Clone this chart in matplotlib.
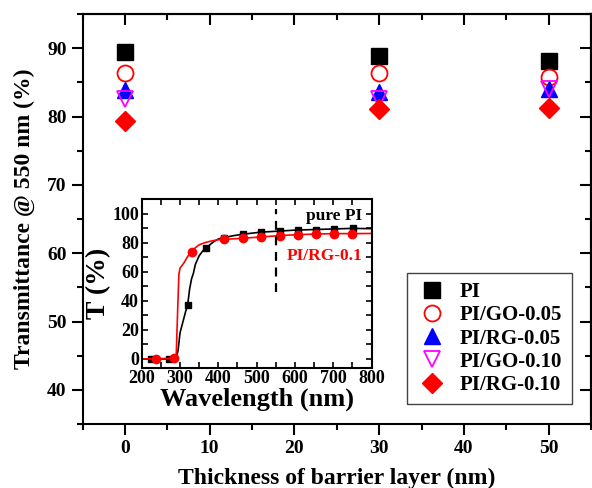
import matplotlib
matplotlib.use("Agg")
import matplotlib.pyplot as plt
from matplotlib.ticker import MultipleLocator

plt.rcParams["font.family"] = ["Liberation Serif", "DejaVu Serif"]
plt.rcParams["font.weight"] = "bold"
plt.rcParams["axes.labelweight"] = "bold"

# Transmittance at 550 nm vs. barrier-layer thickness
thickness = [0, 30, 50]
series_names = ["PI", "PI/GO-0.05", "PI/RG-0.05", "PI/GO-0.10", "PI/RG-0.10"]
t_pi = [89.5, 88.9, 88.1]
t_go005 = [86.3, 86.4, 85.8]
t_rg005 = [83.9, 83.6, 84.0]
t_go010 = [82.6, 82.5, 84.0]
t_rg010 = [79.4, 81.1, 81.2]

# Inset: transmittance spectra
wl_pure_line = [200, 280, 290, 295, 300, 305, 310, 315, 320, 325, 330, 335, 340, 350,
                360, 368, 380, 390, 400, 415, 440, 465, 510, 550, 600, 650, 700, 750, 800]
t_pure_line = [0, 0, 0.5, 6, 18, 23, 28, 33, 37.3, 48, 55, 59, 65, 71,
               74.5, 76.2, 79, 81, 82.5, 83.5, 84.8, 85.8, 87.2, 87.8, 88.6, 89.0, 89.4, 89.8, 89.6]
wl_pure_mark = [224, 272, 321, 368, 416, 465, 511, 561, 607, 655, 702, 751]
t_pure_mark = [0, 0, 37.3, 76.2, 83.5, 85.8, 87.2, 88.1, 88.7, 89.0, 89.4, 89.9]

wl_rg_line = [200, 285, 290, 294, 297, 300, 310, 320, 332, 340, 350, 365, 380, 400,
              416, 465, 510, 560, 607, 655, 700, 750, 800]
t_rg_line = [0, 0.5, 2, 35, 58, 62.5, 66, 70.5, 74, 76.5, 78.5, 80, 81, 82,
             82.3, 83.0, 83.9, 84.8, 85.5, 85.9, 86.2, 86.2, 86.3]
wl_rg_mark = [237, 285, 332, 416, 464, 511, 561, 607, 655, 702, 750]
t_rg_mark = [0, 0.9, 73.9, 82.3, 83.0, 83.9, 84.8, 85.5, 85.9, 86.2, 86.2]

fig = plt.figure(figsize=(5.92, 4.88), dpi=100)
ax = fig.add_axes([0.1394, 0.1311, 0.8589, 0.8402])

styles = [
    dict(marker="s", color="black", mfc="black", ms=11),
    dict(marker="o", color="red", mfc="none", ms=11.5, mew=1.3),
    dict(marker="^", color="blue", mfc="blue", ms=12),
    dict(marker="v", color="magenta", mfc="none", ms=12, mew=1.3),
    dict(marker="D", color="red", mfc="red", ms=10.5),
]
for vals, name, st in zip([t_pi, t_go005, t_rg005, t_go010, t_rg010], series_names, styles):
    ax.plot(thickness, vals, linestyle="none", label=name, **st)

ax.set_xlim(-5, 55)
ax.set_ylim(35, 95)
ax.xaxis.set_major_locator(MultipleLocator(10))
ax.xaxis.set_minor_locator(MultipleLocator(5))
ax.yaxis.set_major_locator(MultipleLocator(10))
ax.yaxis.set_minor_locator(MultipleLocator(5))
ax.tick_params(which="both", direction="out", width=1.5, labelsize=14, top=False, right=False)
ax.tick_params(which="major", length=8)
ax.tick_params(which="minor", length=4.5)
for sp in ax.spines.values():
    sp.set_linewidth(1.5)
for lab in ax.get_xticklabels() + ax.get_yticklabels():
    lab.set_fontweight("bold")
ax.set_xlabel("Thickness of barrier layer (nm)", fontsize=17, labelpad=8)
ax.set_ylabel("Transmittance @ 550 nm (%)", fontsize=17, labelpad=9)

# mirrored inward ticks on top and right
top = ax.secondary_xaxis("top")
top.xaxis.set_major_locator(MultipleLocator(10))
top.xaxis.set_minor_locator(MultipleLocator(5))
top.tick_params(which="both", direction="in", width=1.5, labeltop=False)
top.tick_params(which="major", length=8)
top.tick_params(which="minor", length=4.5)
top.spines["top"].set_linewidth(1.5)
right = ax.secondary_yaxis("right")
right.yaxis.set_major_locator(MultipleLocator(10))
right.yaxis.set_minor_locator(MultipleLocator(5))
right.tick_params(which="both", direction="in", width=1.5, labelright=False)
right.tick_params(which="major", length=8)
right.tick_params(which="minor", length=4.5)
right.spines["right"].set_linewidth(1.5)

leg = ax.legend(loc="upper left", bbox_to_anchor=(407 / 592, 1 - 273 / 488),
                bbox_transform=fig.transFigure, borderaxespad=0,
                prop={"size": 15, "weight": "bold"}, frameon=True, fancybox=False,
                edgecolor="#444444", framealpha=1, labelspacing=0.15,
                handlelength=1.5, handletextpad=0.6, borderpad=0.45)
leg.get_frame().set_linewidth(1.0)

# inset spectra
ins = fig.add_axes([0.2394, 0.2465, 0.3882, 0.3457])
ins.plot(wl_pure_line, t_pure_line, color="black", lw=1.2)
ins.plot(wl_pure_mark, t_pure_mark, linestyle="none", marker="s", color="black", ms=4.5)
ins.plot(wl_rg_line, t_rg_line, color="red", lw=1.2)
ins.plot(wl_rg_mark, t_rg_mark, linestyle="none", marker="o", color="red", ms=6)
ins.plot([550, 550], [46, 103], color="black", lw=1.6, linestyle=(0, (4, 3)))
ins.text(775, 98, "pure PI", color="black", fontsize=12.5, fontweight="bold",
         ha="right", va="center")
ins.text(775, 70.5, "PI/RG-0.1", color="red", fontsize=12.5, fontweight="bold",
         ha="right", va="center")
ins.set_xlim(200, 800)
ins.set_ylim(-6, 110)
ins.xaxis.set_major_locator(MultipleLocator(100))
ins.xaxis.set_minor_locator(MultipleLocator(50))
ins.yaxis.set_major_locator(MultipleLocator(20))
ins.yaxis.set_minor_locator(MultipleLocator(10))
ins.tick_params(which="both", direction="in", width=1.2, top=True, right=True,
                labelsize=13, pad=2)
ins.tick_params(which="major", length=4.5)
ins.tick_params(which="minor", length=4.5)
for sp in ins.spines.values():
    sp.set_linewidth(1.5)
for lab in ins.get_xticklabels() + ins.get_yticklabels():
    lab.set_fontweight("bold")
ins.set_xlabel("Wavelength (nm)", fontsize=19, labelpad=0)
ins.set_ylabel("T (%)", fontsize=20, labelpad=1)

fig.savefig("out.png", dpi=100)
